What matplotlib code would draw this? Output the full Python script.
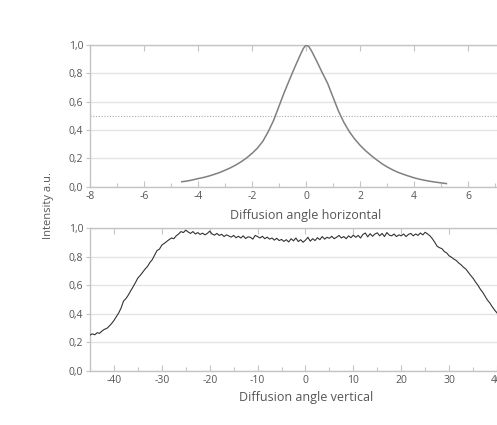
import numpy as np
import matplotlib
matplotlib.use("Agg")
import matplotlib.pyplot as plt
from matplotlib.ticker import FuncFormatter, MultipleLocator

plt.rcParams['font.family'] = ['Open Sans', 'DejaVu Sans']
plt.rcParams['axes.unicode_minus'] = False

# ---- data ----
horiz_angle = [-4.6, -4.4, -4.2, -4.0, -3.8, -3.6, -3.4, -3.2, -3.0, -2.8, -2.6, -2.4,
               -2.2, -2.0, -1.8, -1.6, -1.4, -1.2, -1.0, -0.8, -0.6, -0.4, -0.2, -0.1, 0.0,
               0.1, 0.2, 0.4, 0.6, 0.8, 1.0, 1.2, 1.4, 1.6, 1.8, 2.0, 2.2, 2.4, 2.6, 2.8,
               3.0, 3.2, 3.4, 3.6, 3.8, 4.0, 4.2, 4.4, 4.6, 4.8, 5.0, 5.2]
horiz_intensity = [0.035, 0.040, 0.048, 0.057, 0.065, 0.075, 0.087, 0.100, 0.116, 0.133, 0.153, 0.176,
                   0.203, 0.235, 0.272, 0.320, 0.388, 0.468, 0.568, 0.668, 0.760, 0.850, 0.935, 0.975, 1.000,
                   0.990, 0.960, 0.885, 0.805, 0.730, 0.632, 0.535, 0.455, 0.390, 0.337, 0.293, 0.255, 0.222,
                   0.192, 0.164, 0.140, 0.120, 0.102, 0.088, 0.075, 0.063, 0.053, 0.045, 0.038, 0.032,
                   0.027, 0.022]

vert_start = -45.0
vert_step = 0.5
vert_intensity = [
    0.250, 0.258, 0.252, 0.266, 0.262, 0.278, 0.290, 0.296, 0.312, 0.330,
    0.352, 0.378, 0.405, 0.440, 0.488, 0.505, 0.530, 0.560, 0.588, 0.618,
    0.650, 0.668, 0.690, 0.712, 0.730, 0.758, 0.778, 0.810, 0.842, 0.852,
    0.880, 0.892, 0.905, 0.918, 0.930, 0.925, 0.945, 0.958, 0.975, 0.968,
    0.985, 0.972, 0.962, 0.975, 0.958, 0.968, 0.955, 0.964, 0.952, 0.962,
    0.978, 0.958, 0.950, 0.962, 0.948, 0.956, 0.940, 0.952, 0.944, 0.936,
    0.948, 0.932, 0.942, 0.930, 0.945, 0.926, 0.938, 0.935, 0.922, 0.948,
    0.940, 0.930, 0.942, 0.925, 0.936, 0.922, 0.930, 0.915, 0.928, 0.912,
    0.920, 0.906, 0.918, 0.902, 0.925, 0.910, 0.930, 0.905, 0.918, 0.900,
    0.915, 0.935, 0.908, 0.925, 0.912, 0.932, 0.918, 0.940, 0.922, 0.935,
    0.928, 0.942, 0.925, 0.935, 0.948, 0.930, 0.940, 0.925, 0.945, 0.932,
    0.950, 0.935, 0.948, 0.930, 0.955, 0.965, 0.938, 0.960, 0.942, 0.958,
    0.966, 0.945, 0.962, 0.940, 0.968, 0.950, 0.945, 0.958, 0.940, 0.952,
    0.945, 0.958, 0.940, 0.955, 0.962, 0.945, 0.958, 0.948, 0.965, 0.952,
    0.970, 0.958, 0.945, 0.925, 0.900, 0.872, 0.862, 0.855, 0.835, 0.825,
    0.805, 0.795, 0.782, 0.772, 0.755, 0.742, 0.725, 0.712, 0.690, 0.668,
    0.648, 0.622, 0.600, 0.572, 0.550, 0.522, 0.495, 0.475, 0.448, 0.425,
    0.405, 0.385, 0.362, 0.340, 0.322, 0.305, 0.292, 0.280, 0.270, 0.262,
    0.255]
vert_angle = vert_start + vert_step * np.arange(len(vert_intensity))

y_ticks = [0.0, 0.2, 0.4, 0.6, 0.8, 1.0]
horiz_ticks = [-8, -6, -4, -2, 0, 2, 4, 6]
vert_ticks = [-40, -30, -20, -10, 0, 10, 20, 30, 40]
ylabel_text = "Intensity a.u."
xlabel_top = "Diffusion angle horizontal"
xlabel_bottom = "Diffusion angle vertical"

# ---- style ----
W, H = 497, 425
fig = plt.figure(figsize=(W / 100, H / 100), dpi=100)
spine_c = "#c4c4c4"
grid_c = "#e4e4e4"
text_c = "#555555"

def px(x0, y0, x1, y1):
    return [x0 / W, 1 - y1 / H, (x1 - x0) / W, (y1 - y0) / H]

ax1 = fig.add_axes(px(90, 45, 497, 186.7))
ax2 = fig.add_axes(px(90, 228, 497, 370.7))

comma_fmt = FuncFormatter(lambda v, p: f"{v:.1f}".replace(".", ","))
int_fmt = FuncFormatter(lambda v, p: f"{int(round(v))}")

for ax in (ax1, ax2):
    ax.set_ylim(0, 1)
    ax.set_yticks(y_ticks)
    ax.yaxis.set_major_formatter(comma_fmt)
    ax.spines["right"].set_visible(False)
    for s in ("left", "bottom", "top"):
        ax.spines[s].set_color(spine_c)
        ax.spines[s].set_linewidth(1.0)
    ax.grid(axis="y", color=grid_c, linewidth=1.0)
    ax.set_axisbelow(True)
    ax.tick_params(axis="y", direction="out", length=3, width=0.8, color=spine_c,
                   labelsize=7.5, labelcolor=text_c, pad=2)
    ax.tick_params(axis="x", which="major", direction="in", length=4, width=0.8,
                   color=spine_c, labelsize=7.5, labelcolor=text_c, pad=3,
                   top=True)
    ax.tick_params(axis="x", which="minor", direction="in", length=3, width=0.8,
                   color=spine_c, top=False)
    ax.xaxis.set_major_formatter(int_fmt)
    ax.set_facecolor("white")

# top chart
ax1.set_xlim(-8, -8 + (497 - 90) / 27.0)
ax1.set_xticks(horiz_ticks)
ax1.xaxis.set_minor_locator(MultipleLocator(1))
ax1.axhline(0.5, color="#aaaaaa", linestyle=(0, (1, 1.5)), linewidth=0.8, zorder=1)
ax1.plot(horiz_angle, horiz_intensity, color="#808080", linewidth=1.1, zorder=3)

# bottom chart
ax2.set_xlim(-45, -45 + (497 - 90) / 4.8)
ax2.set_xticks(vert_ticks)
ax2.xaxis.set_minor_locator(MultipleLocator(5))
ax2.plot(vert_angle, vert_intensity, color="#333333", linewidth=0.8, zorder=3)

fig.text(306 / W, 1 - 215 / H, xlabel_top, ha="center", va="center",
         fontsize=9, color=text_c)
fig.text(306 / W, 1 - 398 / H, xlabel_bottom, ha="center", va="center",
         fontsize=9, color=text_c)
fig.text(48 / W, 1 - 205 / H, ylabel_text, ha="center", va="center",
         rotation=90, fontsize=8, color=text_c)

fig.savefig("out.png", dpi=100, facecolor="white")
